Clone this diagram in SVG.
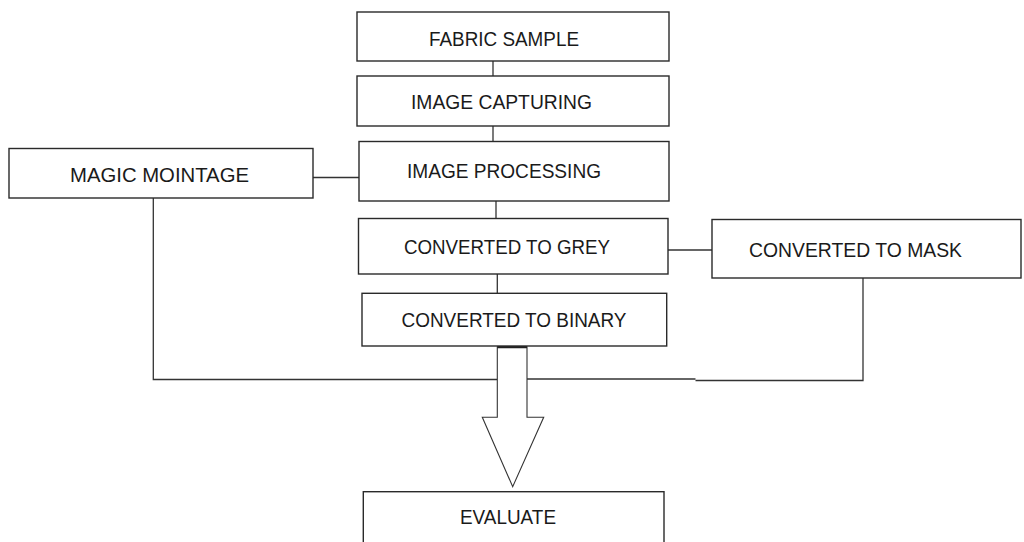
<svg xmlns="http://www.w3.org/2000/svg" width="1024" height="542" viewBox="0 0 1024 542">
<style>
.box{fill:#fff;stroke:#2a2a2a;stroke-width:1.4}
.t{font-family:"Liberation Sans",Arial,sans-serif;font-size:20px;fill:#1a1a1a}
.c{fill:none;stroke:#333;stroke-width:1.3}
</style>
<rect width="1024" height="542" fill="#fff"/>
<g id="connectors">
<line class="c" x1="493" y1="61" x2="493" y2="76"/>
<line class="c" x1="493" y1="126" x2="493" y2="141"/>
<line class="c" x1="313" y1="177.5" x2="359" y2="177.5"/>
<line class="c" x1="496" y1="201" x2="496" y2="219"/>
<line class="c" x1="668" y1="250" x2="712" y2="250"/>
<line class="c" x1="497.3" y1="274" x2="497.3" y2="293"/>
<polyline class="c" points="153.3,198 153.3,379.5 497.3,379.5"/>
<polyline class="c" points="527,379 695.5,379"/>
<polyline class="c" points="695.5,380.5 863,380.5 863,278"/>
<polygon points="497.3,346.7 527,346.7 527,417.3 543.7,417.3 512.7,486.7 482.3,417.3 497.3,417.3" fill="#fff" stroke="#333" stroke-width="1.1"/>
<line x1="497.3" y1="347" x2="527" y2="347" stroke="#222" stroke-width="2.5"/>
</g>
<g id="fabric-sample">
<rect class="box" x="357" y="12" width="312" height="49"/>
<text class="t" x="429" y="46" textLength="150" lengthAdjust="spacingAndGlyphs">FABRIC SAMPLE</text>
</g>
<g id="image-capturing">
<rect class="box" x="357" y="76" width="312" height="50"/>
<text class="t" x="411" y="108.5" textLength="181" lengthAdjust="spacingAndGlyphs">IMAGE CAPTURING</text>
</g>
<g id="magic-mointage">
<rect class="box" x="9" y="148.5" width="304" height="49.5"/>
<text class="t" x="70" y="182" textLength="179" lengthAdjust="spacingAndGlyphs">MAGIC MOINTAGE</text>
</g>
<g id="image-processing">
<rect class="box" x="359" y="141.5" width="310" height="59.5"/>
<text class="t" x="407" y="178" textLength="194" lengthAdjust="spacingAndGlyphs">IMAGE PROCESSING</text>
</g>
<g id="converted-to-grey">
<rect class="box" x="358.5" y="218.5" width="309.5" height="55.5"/>
<text class="t" x="404" y="253.5" textLength="206" lengthAdjust="spacingAndGlyphs">CONVERTED TO GREY</text>
</g>
<g id="converted-to-mask">
<rect class="box" x="712" y="219.5" width="309" height="58.5"/>
<text class="t" x="749" y="256.5" textLength="213" lengthAdjust="spacingAndGlyphs">CONVERTED TO MASK</text>
</g>
<g id="converted-to-binary">
<rect class="box" x="362" y="293.3" width="304.7" height="52.7"/>
<text class="t" x="401.5" y="327" textLength="225" lengthAdjust="spacingAndGlyphs">CONVERTED TO BINARY</text>
</g>
<g id="evaluate">
<rect class="box" x="363.3" y="491.7" width="300.7" height="70"/>
<text class="t" x="460" y="523.5" textLength="96" lengthAdjust="spacingAndGlyphs">EVALUATE</text>
</g>
</svg>
